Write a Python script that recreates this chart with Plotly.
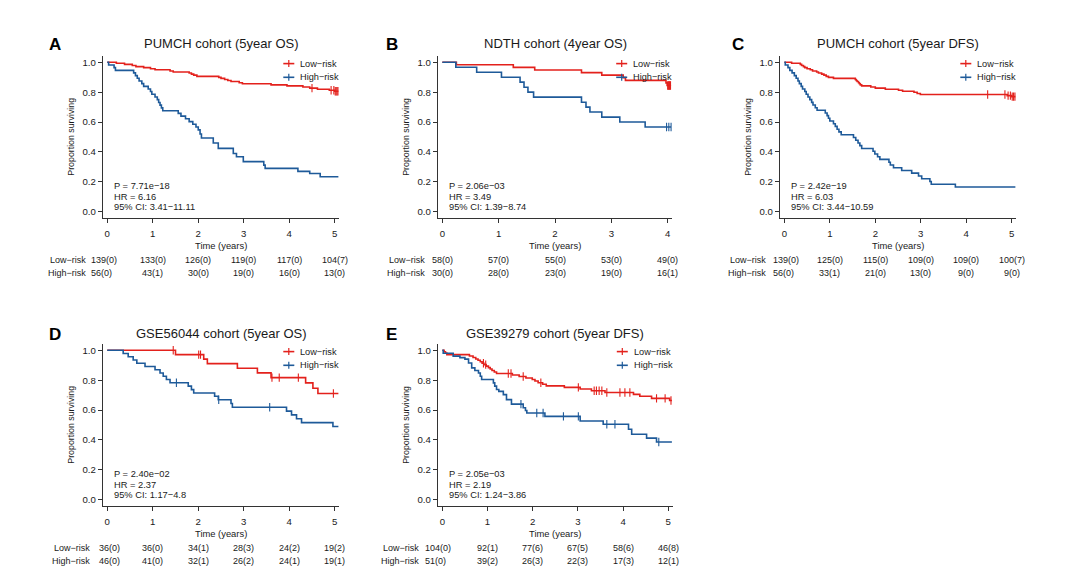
import plotly.graph_objects as go

W, H = 1080, 584
RED = "#E3211C"
BLUE = "#1E5A99"
INK = "#1a1a1a"
AXC = "#333333"
FONT = "Liberation Sans, Arial, Helvetica, sans-serif"
MINUS = "\u2212"

# ------------------------------------------------------------------ data
letters = ["A", "B", "C", "D", "E"]
titles = ["PUMCH cohort (5year OS)", "NDTH cohort (4year OS)", "PUMCH cohort (5year DFS)",
          "GSE56044 cohort (5year OS)", "GSE39279 cohort (5year DFS)"]
group_labels = ["Low" + MINUS + "risk", "High" + MINUS + "risk"]
axis_years = [5, 4, 5, 5, 5]
end_time = [5.08, 4.06, 5.08, 5.08, 5.08]
y_ticks = [0.0, 0.2, 0.4, 0.6, 0.8, 1.0]
y_ticktext = ["0.0", "0.2", "0.4", "0.6", "0.8", "1.0"]

# Panel A  PUMCH OS
A_low_t = [0.20, 0.38, 0.55, 0.63, 0.80, 0.95, 1.05, 1.38, 1.45, 1.80, 1.85, 1.90, 1.97, 2.45, 2.50,
           2.58, 2.65, 2.72, 2.90, 2.97, 3.60, 3.95, 4.30, 4.45, 4.62, 4.88, 5.00]
A_low_s = [0.993, 0.986, 0.978, 0.971, 0.964, 0.957, 0.950, 0.942, 0.935, 0.928, 0.921, 0.914, 0.906,
           0.899, 0.892, 0.885, 0.878, 0.871, 0.863, 0.856, 0.849, 0.842, 0.835, 0.827, 0.820, 0.813, 0.806]
A_low_c = [4.50, 4.92, 4.98, 5.01, 5.03, 5.05, 5.07]
A_high_t = [0.03, 0.15, 0.18, 0.58, 0.62, 0.66, 0.70, 0.76, 0.80, 0.90, 0.95, 0.98, 1.05, 1.10, 1.13,
            1.16, 1.19, 1.22, 1.56, 1.62, 1.72, 1.80, 1.88, 1.95, 2.00, 2.04, 2.07, 2.33, 2.44, 2.77,
            2.84, 2.99, 3.44, 3.47, 4.19, 4.45, 4.68]
A_high_s = [0.982, 0.964, 0.946, 0.929, 0.911, 0.893, 0.875, 0.857, 0.839, 0.821, 0.804, 0.786, 0.768,
            0.750, 0.731, 0.713, 0.695, 0.676, 0.658, 0.640, 0.622, 0.603, 0.585, 0.567, 0.548, 0.520,
            0.493, 0.460, 0.424, 0.390, 0.368, 0.335, 0.312, 0.290, 0.270, 0.256, 0.234]
A_high_c = []
A_risk_low = ["139(0)", "133(0)", "126(0)", "119(0)", "117(0)", "104(7)"]
A_risk_high = ["56(0)", "43(1)", "30(0)", "19(0)", "16(0)", "13(0)"]
A_stats = ["P = 7.71e" + MINUS + "18", "HR = 6.16", "95% CI: 3.41" + MINUS + "11.11"]

# Panel B  NDTH OS
B_low_t = [0.25, 1.26, 1.64, 2.47, 2.83, 3.21, 3.25, 3.97, 3.99]
B_low_s = [0.983, 0.966, 0.948, 0.931, 0.914, 0.897, 0.879, 0.862, 0.845]
B_low_c = [4.00, 4.01, 4.02, 4.03, 4.04, 4.05]
B_high_t = [0.24, 0.61, 1.05, 1.38, 1.45, 1.52, 1.62, 2.47, 2.55, 2.62, 2.83, 3.15, 3.60]
B_high_s = [0.967, 0.933, 0.900, 0.867, 0.833, 0.800, 0.767, 0.733, 0.700, 0.667, 0.633, 0.600, 0.567]
B_high_c = [3.98, 4.02, 4.06]
B_risk_low = ["58(0)", "57(0)", "55(0)", "53(0)", "49(0)"]
B_risk_high = ["30(0)", "28(0)", "23(0)", "19(0)", "16(1)"]
B_stats = ["P = 2.06e" + MINUS + "03", "HR = 3.49", "95% CI: 1.39" + MINUS + "8.74"]

# Panel C  PUMCH DFS
C_low_t = [0.16, 0.35, 0.38, 0.42, 0.45, 0.50, 0.57, 0.62, 0.71, 0.75, 0.82, 0.87, 0.92, 0.97, 1.08,
           1.56, 1.58, 1.60, 1.63, 1.65, 1.67, 1.70, 1.90, 2.00, 2.22, 2.51, 2.60, 2.85, 2.92, 2.99,
           4.90, 5.00]
C_low_s = [0.993, 0.986, 0.978, 0.971, 0.964, 0.957, 0.950, 0.942, 0.935, 0.928, 0.921, 0.914, 0.906,
           0.899, 0.892, 0.885, 0.878, 0.871, 0.863, 0.856, 0.849, 0.842, 0.835, 0.827, 0.820, 0.813,
           0.806, 0.799, 0.791, 0.784, 0.777, 0.770]
C_low_c = [4.47, 4.85, 4.92, 4.97, 5.01, 5.04, 5.07]
C_high_t = [0.02, 0.08, 0.12, 0.17, 0.22, 0.26, 0.30, 0.33, 0.37, 0.40, 0.45, 0.48, 0.52, 0.56, 0.60,
            0.63, 0.68, 0.72, 0.90, 0.94, 0.97, 1.00, 1.08, 1.12, 1.16, 1.20, 1.25, 1.52, 1.57, 1.62,
            1.66, 1.70, 1.95, 1.99, 2.05, 2.10, 2.30, 2.33, 2.40, 2.58, 2.80, 2.95, 3.02, 3.20, 3.23,
            3.76]
C_high_s = [0.982, 0.964, 0.946, 0.929, 0.911, 0.893, 0.875, 0.857, 0.839, 0.821, 0.804, 0.786, 0.768,
            0.750, 0.732, 0.714, 0.696, 0.679, 0.661, 0.643, 0.625, 0.607, 0.589, 0.571, 0.552, 0.534,
            0.515, 0.497, 0.478, 0.460, 0.442, 0.423, 0.405, 0.386, 0.368, 0.350, 0.331, 0.313, 0.294,
            0.276, 0.258, 0.239, 0.221, 0.202, 0.184, 0.165]
C_high_c = []
C_risk_low = ["139(0)", "125(0)", "115(0)", "109(0)", "109(0)", "100(7)"]
C_risk_high = ["56(0)", "33(1)", "21(0)", "13(0)", "9(0)", "9(0)"]
C_stats = ["P = 2.42e" + MINUS + "19", "HR = 6.03", "95% CI: 3.44" + MINUS + "10.59"]

# Panel D  GSE56044 OS
D_low_t = [1.50, 2.12, 2.20, 2.86, 3.30, 3.60, 4.36, 4.52, 4.63]
D_low_s = [0.971, 0.941, 0.911, 0.880, 0.849, 0.817, 0.782, 0.746, 0.711]
D_low_c = [1.45, 2.01, 2.05, 3.62, 3.78, 4.20, 4.97]
D_high_t = [0.35, 0.46, 0.57, 0.65, 0.83, 1.05, 1.16, 1.23, 1.30, 1.38, 1.78, 1.85, 1.90, 2.36, 2.44,
            2.72, 2.75, 3.94, 4.05, 4.16, 4.27, 4.96]
D_high_s = [0.978, 0.957, 0.935, 0.913, 0.891, 0.870, 0.848, 0.826, 0.804, 0.783, 0.760, 0.737, 0.714,
            0.692, 0.669, 0.644, 0.619, 0.593, 0.568, 0.542, 0.516, 0.490]
D_high_c = [1.52, 2.45, 3.57]
D_risk_low = ["36(0)", "36(0)", "34(1)", "28(3)", "24(2)", "19(2)"]
D_risk_high = ["46(0)", "41(0)", "32(1)", "26(2)", "24(1)", "19(1)"]
D_stats = ["P = 2.40e" + MINUS + "02", "HR = 2.37", "95% CI: 1.17" + MINUS + "4.8"]

# Panel E  GSE39279 DFS
E_low_t = [0.04, 0.07, 0.10, 0.60, 0.68, 0.74, 0.79, 0.84, 0.88, 0.92, 0.97, 1.02, 1.06, 1.10, 1.15,
           1.20, 1.55, 1.70, 1.85, 1.99, 2.05, 2.12, 2.22, 2.30, 2.70, 3.05, 3.30, 3.60, 4.23, 4.37,
           4.63, 5.03]
E_low_s = [0.990, 0.981, 0.971, 0.962, 0.952, 0.942, 0.933, 0.923, 0.913, 0.904, 0.894, 0.884, 0.875,
           0.865, 0.855, 0.845, 0.835, 0.825, 0.814, 0.804, 0.794, 0.783, 0.773, 0.762, 0.752, 0.741,
           0.729, 0.717, 0.705, 0.692, 0.678, 0.664]
E_low_c = [0.91, 0.96, 1.46, 1.52, 1.79, 2.18, 3.01, 3.36, 3.41, 3.47, 3.53, 3.64, 3.93, 4.04, 4.15,
           4.74, 4.93, 5.06]
E_high_t = [0.02, 0.24, 0.39, 0.50, 0.58, 0.65, 0.72, 0.80, 0.84, 0.87, 1.13, 1.16, 1.20, 1.25, 1.35,
            1.42, 1.53, 1.79, 1.84, 1.87, 2.27, 3.05, 3.56, 4.12, 4.19, 4.52, 4.74]
E_high_s = [0.980, 0.961, 0.951, 0.941, 0.915, 0.882, 0.865, 0.848, 0.826, 0.804, 0.782, 0.760, 0.738,
            0.725, 0.703, 0.670, 0.640, 0.615, 0.597, 0.580, 0.558, 0.527, 0.505, 0.472, 0.438, 0.412,
            0.386]
E_high_c = [1.74, 2.09, 2.23, 2.68, 3.01, 3.64, 3.82, 4.79]
E_risk_low = ["104(0)", "92(1)", "77(6)", "67(5)", "58(6)", "46(8)"]
E_risk_high = ["51(0)", "39(2)", "26(3)", "22(3)", "17(3)", "12(1)"]
E_stats = ["P = 2.05e" + MINUS + "03", "HR = 2.19", "95% CI: 1.24" + MINUS + "3.86"]

panels = [
    dict(low=(A_low_t, A_low_s, A_low_c), high=(A_high_t, A_high_s, A_high_c),
         rl=A_risk_low, rh=A_risk_high, stats=A_stats),
    dict(low=(B_low_t, B_low_s, B_low_c), high=(B_high_t, B_high_s, B_high_c),
         rl=B_risk_low, rh=B_risk_high, stats=B_stats),
    dict(low=(C_low_t, C_low_s, C_low_c), high=(C_high_t, C_high_s, C_high_c),
         rl=C_risk_low, rh=C_risk_high, stats=C_stats),
    dict(low=(D_low_t, D_low_s, D_low_c), high=(D_high_t, D_high_s, D_high_c),
         rl=D_risk_low, rh=D_risk_high, stats=D_stats),
    dict(low=(E_low_t, E_low_s, E_low_c), high=(E_high_t, E_high_s, E_high_c),
         rl=E_risk_low, rh=E_risk_high, stats=E_stats),
]

# ------------------------------------------------------------------ layout geometry (px)
geom = [
    dict(l=102.7, r=339.3, t=56.3, b=217.7, lx=55.0, ly=44.5, ty=43.3, lab=-19.6, num=-17.8),
    dict(l=437.8, r=672.2, t=56.3, b=217.7, lx=392.0, ly=44.5, ty=43.3, lab=-15.6, num=-12.3),
    dict(l=779.8, r=1016.3, t=56.3, b=217.7, lx=738.0, ly=44.5, ty=43.3, lab=-16.0, num=-13.4),
    dict(l=102.7, r=339.3, t=344.3, b=505.7, lx=55.0, ly=334.5, ty=333.3, lab=-15.4, num=-10.6),
    dict(l=437.8, r=672.8, t=344.3, b=505.7, lx=391.5, ly=334.5, ty=333.3, lab=-21.0, num=-19.4),
]


def X(px):
    return px / W


def Y(py):
    return 1 - py / H


def step_value(t, times, surv):
    s = 1.0
    for ti, si in zip(times, surv):
        if ti <= t:
            s = si
    return s


fig = go.Figure()
ann = []
shapes = []
lay = {}

for i, (p, g) in enumerate(zip(panels, geom)):
    k = "" if i == 0 else str(i + 1)
    xa, ya = "x" + k, "y" + k
    T = axis_years[i]
    pad = 0.02 * T
    lay["xaxis" + k] = dict(
        domain=[X(g["l"]), X(g["r"])], range=[-pad, T + pad], anchor=ya,
        tickmode="array", tickvals=list(range(T + 1)),
        showline=True, linecolor=AXC, linewidth=1, mirror=False,
        ticks="outside", ticklen=4, tickwidth=1, tickcolor=AXC, ticklabelstandoff=3,
        showgrid=False, zeroline=False, fixedrange=True,
        tickfont=dict(family=FONT, size=9.6, color=INK))
    lay["yaxis" + k] = dict(
        domain=[Y(g["b"]), Y(g["t"])], range=[-0.04, 1.04], anchor=xa,
        tickmode="array", tickvals=y_ticks, ticktext=y_ticktext,
        showline=True, linecolor=AXC, linewidth=1, mirror=False,
        ticks="outside", ticklen=4, tickwidth=1, tickcolor=AXC,
        showgrid=False, zeroline=False, fixedrange=True,
        tickfont=dict(family=FONT, size=9.6, color=INK))

    for (times, surv, cens), color in [(p["low"], RED), (p["high"], BLUE)]:
        xs = [0.0] + list(times) + [end_time[i]]
        ys = [1.0] + list(surv) + [surv[-1]]
        fig.add_trace(go.Scatter(x=xs, y=ys, mode="lines", xaxis=xa, yaxis=ya,
                                 line=dict(color=color, width=1.6, shape="hv"),
                                 showlegend=False, hoverinfo="skip"))
        if cens:
            cy = [step_value(c, times, surv) for c in cens]
            fig.add_trace(go.Scatter(x=cens, y=cy, mode="markers", xaxis=xa, yaxis=ya,
                                     marker=dict(symbol="line-ns", size=6,
                                                 line=dict(color=color, width=1.1)),
                                     showlegend=False, hoverinfo="skip"))

    cx = (g["l"] + g["r"]) / 2
    # panel letter and title
    ann.append(dict(text="<b>%s</b>" % letters[i], x=X(g["lx"]), y=Y(g["ly"]), xref="paper", yref="paper",
                    showarrow=False, xanchor="center", yanchor="middle",
                    font=dict(family=FONT, size=17, color="#000")))
    ann.append(dict(text=titles[i], x=X(cx), y=Y(g["ty"]), xref="paper", yref="paper",
                    showarrow=False, xanchor="center", yanchor="middle",
                    font=dict(family=FONT, size=13, color=INK)))
    # axis titles
    ann.append(dict(text="Proportion surviving", x=X(g["l"] - 32), y=Y((g["t"] + g["b"]) / 2),
                    xref="paper", yref="paper", showarrow=False, textangle=-90,
                    xanchor="center", yanchor="middle", font=dict(family=FONT, size=8.8, color=INK)))
    ann.append(dict(text="Time (years)", x=X(cx), y=Y(g["b"] + 27.5), xref="paper", yref="paper",
                    showarrow=False, xanchor="center", yanchor="middle",
                    font=dict(family=FONT, size=9.4, color=INK)))
    # statistics
    for j, (line, off) in enumerate(zip(p["stats"], [130.0, 140.3, 150.6])):
        ann.append(dict(text=line, x=0, xref=xa, xshift=4.5, y=Y(g["t"] + off), yref="paper",
                        showarrow=False, xanchor="left", yanchor="middle",
                        font=dict(family=FONT, size=9.3, color=INK)))
    # legend (drawn in the panel's top-right corner)
    for j, (lab, color) in enumerate(zip(group_labels, [RED, BLUE])):
        yy = g["t"] + (7.3 if j == 0 else 21.0)
        shapes.append(dict(type="line", xref="paper", yref="paper",
                           x0=X(g["r"] - 56), x1=X(g["r"] - 45), y0=Y(yy), y1=Y(yy),
                           line=dict(color=color, width=1.6)))
        shapes.append(dict(type="line", xref="paper", yref="paper",
                           x0=X(g["r"] - 50.5), x1=X(g["r"] - 50.5), y0=Y(yy - 3.5), y1=Y(yy + 3.5),
                           line=dict(color=color, width=1.2)))
        ann.append(dict(text=lab, x=X(g["r"] - 41), y=Y(yy), xref="paper", yref="paper",
                        showarrow=False, xanchor="left", yanchor="middle",
                        font=dict(family=FONT, size=9.2, color=INK)))
    # numbers at risk
    for j, (lab, row) in enumerate(zip(group_labels, [p["rl"], p["rh"]])):
        yy = g["b"] + (42.3 if j == 0 else 54.8)
        ann.append(dict(text=lab, x=0, xref=xa, xshift=g["lab"], y=Y(yy), yref="paper",
                        showarrow=False, xanchor="right", yanchor="middle",
                        font=dict(family=FONT, size=9.0, color=INK)))
        for tval, txt in enumerate(row):
            ann.append(dict(text=txt, x=tval, xref=xa, xshift=(g["num"] if tval == 0 else 0),
                            y=Y(yy), yref="paper", showarrow=False,
                            xanchor=("left" if tval == 0 else "center"), yanchor="middle",
                            font=dict(family=FONT, size=9.0, color=INK)))

fig.update_layout(**lay)
fig.update_layout(width=W, height=H, margin=dict(l=0, r=0, t=0, b=0),
                  paper_bgcolor="white", plot_bgcolor="white",
                  font=dict(family=FONT, color=INK), showlegend=False,
                  annotations=ann, shapes=shapes)
fig.write_html("out.html", config={"displayModeBar": False},
               post_script="document.body.style.margin='0px';document.body.style.padding='0px';")
